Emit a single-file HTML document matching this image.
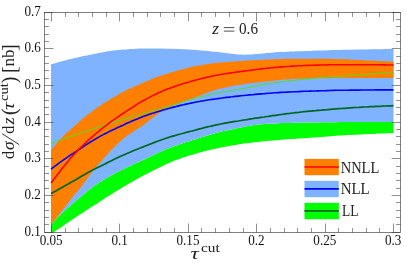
<!DOCTYPE html>
<html><head><meta charset="utf-8"><style>
html,body{margin:0;padding:0;background:#fff;}
svg{display:block;will-change:transform;font-family:"Liberation Serif",serif;fill:#000;}
.tl text{font-size:13.6px;}
</style></head><body>
<svg width="407" height="270" viewBox="0 0 407 270">
<rect width="407" height="270" fill="#fff"/>
<clipPath id="c"><rect x="44.5" y="12.5" width="356.0" height="220.0"/></clipPath>
<g clip-path="url(#c)">
<path d="M51.0,224.8 53.9,221.5 56.8,218.3 59.6,215.4 60.0,215.0 62.5,212.6 65.4,210.1 68.3,207.6 68.6,207.3 71.1,205.1 74.0,202.6 76.9,200.1 77.0,200.0 79.8,197.6 82.7,195.1 82.8,195.0 85.5,192.7 88.4,190.3 91.3,188.0 93.1,186.7 94.2,185.9 97.1,184.0 99.9,182.1 102.8,180.3 105.4,178.7 105.7,178.5 108.6,176.9 111.4,175.3 114.3,173.7 117.0,172.3 117.2,172.2 120.1,170.7 123.0,169.3 125.8,167.9 128.7,166.5 130.0,165.9 131.6,165.2 134.5,163.8 137.3,162.5 140.2,161.2 143.1,159.9 144.0,159.5 146.0,158.6 148.9,157.2 151.7,155.9 154.6,154.5 157.5,153.1 160.4,151.8 163.2,150.5 166.1,149.3 168.6,148.3 169.0,148.1 171.9,147.1 174.8,146.0 177.6,145.0 180.5,144.0 183.4,143.1 186.3,142.1 189.2,141.2 192.0,140.3 193.0,140.0 194.9,139.4 197.8,138.5 200.7,137.6 203.5,136.7 206.4,135.8 209.3,134.9 212.2,134.1 215.1,133.3 217.7,132.6 217.9,132.5 220.8,131.8 223.7,131.1 226.6,130.5 229.4,129.8 232.3,129.2 235.2,128.6 238.1,128.0 241.0,127.4 243.8,126.8 244.0,126.8 246.7,126.3 249.6,125.7 252.5,125.2 255.0,124.9 255.3,124.9 258.2,124.5 261.1,124.3 264.0,124.0 266.9,123.8 268.6,123.7 269.7,123.6 272.6,123.5 275.5,123.4 278.4,123.2 281.3,123.1 284.1,123.0 287.0,123.0 289.9,122.9 292.8,122.8 293.0,122.8 295.6,122.7 298.5,122.7 301.4,122.6 304.3,122.6 307.2,122.5 310.0,122.5 312.9,122.5 315.8,122.4 317.7,122.4 318.7,122.4 321.5,122.3 324.4,122.3 327.3,122.3 330.2,122.2 333.1,122.2 335.9,122.2 338.8,122.1 341.7,122.1 344.0,122.1 344.6,122.1 347.4,122.1 350.3,122.1 353.2,122.0 356.1,122.0 359.0,122.0 361.8,122.0 364.7,122.0 367.6,122.0 370.5,122.0 373.4,121.9 376.2,121.9 379.1,121.9 382.0,121.9 384.9,121.9 387.7,121.9 390.6,121.9 393.5,121.9 L393.5,133.0 390.6,133.1 387.7,133.2 384.9,133.4 382.0,133.5 379.1,133.6 376.2,133.7 373.4,133.9 370.5,134.0 368.0,134.1 367.6,134.1 364.7,134.3 361.8,134.4 359.0,134.5 356.1,134.7 353.2,134.8 350.3,134.9 347.4,135.1 344.6,135.3 344.0,135.3 341.7,135.4 338.8,135.6 335.9,135.8 333.1,136.0 330.2,136.3 327.3,136.5 324.4,136.7 321.5,136.9 318.7,137.2 315.8,137.4 312.9,137.6 310.0,137.8 310.0,137.8 307.2,138.0 304.3,138.2 301.4,138.4 298.5,138.5 295.6,138.7 293.0,138.9 292.8,138.9 289.9,139.1 287.0,139.3 284.1,139.5 281.3,139.7 278.4,140.0 275.5,140.2 272.6,140.4 269.7,140.7 268.6,140.8 266.9,141.0 264.0,141.3 261.1,141.6 258.2,141.9 255.3,142.3 255.0,142.3 252.5,142.6 249.6,142.9 246.7,143.2 244.0,143.6 243.8,143.6 241.0,144.0 238.1,144.5 235.2,145.0 232.3,145.4 229.4,146.0 226.6,146.5 223.7,147.1 220.8,147.6 217.9,148.2 215.1,148.8 214.3,149.0 212.2,149.5 209.3,150.1 206.4,150.8 203.5,151.5 200.7,152.3 197.8,153.0 194.9,153.9 193.0,154.4 192.0,154.7 189.2,155.5 186.3,156.5 183.4,157.4 180.5,158.4 177.6,159.4 174.8,160.5 174.8,160.5 171.9,161.7 169.0,163.0 166.1,164.3 163.2,165.6 160.4,167.0 160.0,167.2 157.5,168.4 154.6,169.8 151.7,171.2 148.9,172.7 146.0,174.2 144.4,175.0 143.1,175.7 140.2,177.2 137.3,178.8 134.5,180.4 131.6,182.1 130.0,183.0 128.7,183.7 125.8,185.4 123.0,187.1 120.1,188.9 117.2,190.6 114.6,192.2 114.3,192.4 111.4,194.2 108.6,196.0 105.7,197.8 102.8,199.7 100.0,201.5 99.9,201.5 97.1,203.4 94.2,205.3 91.3,207.1 88.4,209.0 85.5,210.8 82.7,212.7 79.8,214.6 76.9,216.5 74.0,218.4 73.6,218.7 71.1,220.3 68.3,222.3 65.4,224.2 62.5,226.2 59.6,228.2 56.8,230.1 53.9,232.1 53.6,232.3 51.0,234.1Z" fill="#00ff00"/>
<path d="M51.0,64.3 54.3,63.4 57.5,62.5 60.8,61.6 64.1,60.7 67.4,59.9 68.6,59.6 70.6,59.1 73.9,58.3 77.2,57.6 80.5,56.8 83.7,56.1 87.0,55.4 90.3,54.7 93.0,54.2 93.6,54.1 96.8,53.5 100.1,52.8 103.4,52.2 106.7,51.6 109.9,51.1 113.2,50.6 116.5,50.2 118.0,50.1 119.8,49.9 123.0,49.6 126.3,49.4 129.6,49.1 132.9,48.9 136.1,48.7 139.4,48.6 142.7,48.5 144.0,48.5 146.0,48.5 149.2,48.5 152.5,48.5 155.8,48.6 159.1,48.6 162.3,48.6 165.6,48.7 168.6,48.7 168.9,48.7 172.2,48.8 175.4,48.9 178.7,49.0 182.0,49.2 185.3,49.3 188.5,49.5 191.8,49.7 193.0,49.8 195.1,49.9 198.4,50.2 201.6,50.5 204.9,50.8 208.2,51.1 211.5,51.4 214.0,51.7 214.7,51.8 218.0,52.1 221.3,52.5 224.6,52.8 225.0,52.9 227.8,53.2 231.1,53.7 233.2,53.9 234.4,54.0 237.7,54.4 239.0,54.5 240.9,54.6 244.2,54.8 248.0,54.6 250.0,54.5 251.9,54.4 255.7,54.1 258.2,53.9 259.5,53.8 263.3,53.4 267.2,53.0 268.6,52.9 271.0,52.7 274.0,52.4 274.8,52.3 278.7,52.1 282.5,51.9 286.3,51.8 290.1,51.6 293.0,51.5 294.0,51.5 297.8,51.3 301.6,51.2 305.5,51.0 309.3,50.9 313.1,50.8 316.9,50.6 317.7,50.6 320.8,50.5 324.6,50.4 328.4,50.2 332.2,50.1 336.1,50.0 339.9,49.9 343.7,49.8 344.0,49.8 347.6,49.7 351.4,49.7 355.2,49.6 359.0,49.5 362.9,49.4 366.7,49.4 370.5,49.3 374.4,49.3 378.2,49.2 382.0,49.2 385.8,49.1 389.7,49.1 393.5,49.1 L393.5,121.9 390.6,121.9 387.7,121.9 384.9,121.9 382.0,121.9 379.1,121.9 376.2,121.9 373.4,121.9 370.5,122.0 367.6,122.0 364.7,122.0 361.8,122.0 359.0,122.0 356.1,122.0 353.2,122.0 350.3,122.1 347.4,122.1 344.6,122.1 344.0,122.1 341.7,122.1 338.8,122.1 335.9,122.2 333.1,122.2 330.2,122.2 327.3,122.3 324.4,122.3 321.5,122.3 318.7,122.4 317.7,122.4 315.8,122.4 312.9,122.5 310.0,122.5 307.2,122.5 304.3,122.6 301.4,122.6 298.5,122.7 295.6,122.7 293.0,122.8 292.8,122.8 289.9,122.9 287.0,123.0 284.1,123.0 281.3,123.1 278.4,123.2 275.5,123.4 272.6,123.5 269.7,123.6 268.6,123.7 266.9,123.8 264.0,124.0 261.1,124.3 258.2,124.5 255.3,124.9 255.0,124.9 252.5,125.2 249.6,125.7 246.7,126.3 244.0,126.8 243.8,126.8 241.0,127.4 238.1,128.0 235.2,128.6 232.3,129.2 229.4,129.8 226.6,130.5 223.7,131.1 220.8,131.8 217.9,132.5 217.7,132.6 215.1,133.3 212.2,134.1 209.3,134.9 206.4,135.8 203.5,136.7 200.7,137.6 197.8,138.5 194.9,139.4 193.0,140.0 192.0,140.3 189.2,141.2 186.3,142.1 183.4,143.1 180.5,144.0 177.6,145.0 174.8,146.0 171.9,147.1 169.0,148.1 168.6,148.3 166.1,149.3 163.2,150.5 160.4,151.8 157.5,153.1 154.6,154.5 151.7,155.9 148.9,157.2 146.0,158.6 144.0,159.5 143.1,159.9 140.2,161.2 137.3,162.5 134.5,163.8 131.6,165.2 130.0,165.9 128.7,166.5 125.8,167.9 123.0,169.3 120.1,170.7 117.2,172.2 117.0,172.3 114.3,173.7 111.4,175.3 108.6,176.9 105.7,178.5 105.4,178.7 102.8,180.3 99.9,182.1 97.1,184.0 94.2,185.9 93.1,186.7 91.3,188.0 88.4,190.3 85.5,192.7 82.8,195.0 82.7,195.1 79.8,197.6 77.0,200.0 76.9,200.1 74.0,202.6 71.1,205.1 68.6,207.3 68.3,207.6 65.4,210.1 62.5,212.6 60.0,215.0 59.6,215.4 56.8,218.3 53.9,221.5 51.0,224.8Z" fill="#80b3ff"/>
<path d="M51.0,150.3 53.9,146.5 56.0,143.9 56.8,143.0 59.6,139.8 62.5,136.9 63.4,136.0 65.4,134.1 68.3,131.6 68.6,131.3 71.1,129.0 74.0,126.4 76.9,123.8 79.8,121.2 80.9,120.2 82.7,118.6 84.0,117.4 85.5,116.2 88.4,114.0 91.3,111.9 93.1,110.6 94.2,109.8 97.1,107.8 99.9,105.8 101.5,104.8 102.8,103.9 105.7,102.1 108.6,100.3 111.4,98.6 113.6,97.3 114.3,96.9 117.2,95.2 120.1,93.6 123.0,92.0 125.8,90.5 126.2,90.3 128.7,89.1 131.6,87.7 134.5,86.4 137.3,85.2 140.2,83.9 143.1,82.7 144.0,82.3 146.0,81.4 148.9,80.2 151.7,79.0 154.6,77.9 154.8,77.8 157.5,76.8 160.4,75.8 163.2,74.9 166.1,74.0 168.6,73.2 169.0,73.1 171.9,72.2 174.8,71.4 177.6,70.5 179.6,70.0 180.5,69.7 183.4,69.0 186.3,68.2 189.2,67.5 192.0,66.8 193.0,66.6 194.9,66.2 197.8,65.7 200.7,65.2 203.5,64.7 206.4,64.2 209.3,63.8 212.2,63.4 215.1,63.1 217.7,62.8 217.9,62.8 220.8,62.5 223.7,62.2 226.6,62.0 229.4,61.8 232.3,61.6 235.2,61.4 238.1,61.2 241.0,61.0 243.8,60.8 244.0,60.8 246.7,60.6 249.6,60.4 252.5,60.3 255.3,60.1 258.2,59.9 261.1,59.7 264.0,59.6 266.9,59.5 268.6,59.4 269.7,59.4 272.6,59.2 275.5,59.1 278.4,59.0 281.3,58.9 284.1,58.8 287.0,58.8 289.9,58.7 292.8,58.7 293.0,58.7 295.6,58.7 298.5,58.7 301.4,58.7 304.3,58.7 307.2,58.7 310.0,58.7 312.9,58.7 315.8,58.7 317.7,58.7 318.7,58.7 321.5,58.7 324.4,58.7 327.3,58.8 330.2,58.8 333.1,58.9 335.9,59.0 338.8,59.1 341.7,59.1 344.0,59.2 344.6,59.2 347.4,59.3 350.3,59.5 353.2,59.7 356.0,59.8 356.1,59.8 359.0,59.9 361.8,60.1 364.7,60.2 367.6,60.4 370.5,60.5 373.4,60.6 376.2,60.8 379.1,60.9 382.0,61.1 384.9,61.2 387.7,61.3 390.6,61.5 393.5,61.6 L393.5,78.1 390.6,78.1 387.7,78.1 384.9,78.1 382.0,78.1 379.1,78.1 376.2,78.1 373.4,78.1 370.5,78.1 367.6,78.1 364.7,78.1 361.8,78.1 359.0,78.1 356.1,78.1 353.2,78.1 350.3,78.1 347.4,78.1 344.6,78.1 344.0,78.1 341.7,78.1 338.8,78.1 335.9,78.1 333.1,78.1 330.2,78.2 327.3,78.2 324.4,78.2 321.5,78.3 318.7,78.3 317.7,78.3 315.8,78.3 312.9,78.4 310.0,78.4 307.2,78.5 304.3,78.6 301.4,78.7 298.5,78.8 295.6,78.9 293.0,79.0 292.8,79.0 289.9,79.2 287.0,79.4 284.1,79.6 281.3,79.9 278.4,80.2 275.5,80.5 272.6,80.9 269.7,81.2 268.6,81.3 266.9,81.5 264.0,81.8 261.1,82.1 258.2,82.4 255.3,82.7 252.5,83.1 249.6,83.4 246.7,83.8 244.0,84.2 243.8,84.2 241.0,84.7 238.1,85.1 235.2,85.6 232.3,86.2 229.4,86.7 226.6,87.3 223.7,87.9 220.8,88.6 217.9,89.3 217.7,89.4 215.1,90.1 212.2,91.1 209.3,92.1 206.4,93.2 203.5,94.3 200.7,95.4 200.0,95.6 197.8,96.4 194.9,97.4 192.0,98.4 189.2,99.5 188.9,99.6 186.3,100.6 183.4,101.7 180.5,102.9 177.6,104.0 177.0,104.3 174.8,105.2 171.9,106.4 169.0,107.6 166.1,108.9 165.2,109.4 163.2,110.5 160.4,112.3 157.5,114.2 154.8,116.1 154.6,116.2 151.7,118.4 148.9,120.8 146.0,123.1 143.7,124.8 143.1,125.2 140.2,127.2 137.3,129.0 134.5,130.8 131.6,132.7 130.0,133.8 128.7,134.7 125.8,136.8 123.0,139.1 121.9,140.0 120.1,141.6 117.2,144.3 114.3,147.1 111.4,150.1 108.6,153.1 107.0,154.8 105.7,156.3 102.8,159.7 102.5,160.0 99.9,162.8 97.1,165.8 94.4,168.8 94.2,169.1 91.3,172.9 88.4,177.0 86.3,180.0 85.5,181.1 82.7,185.0 82.5,185.2 79.8,188.5 76.9,191.9 74.0,195.3 73.6,195.8 71.1,198.9 68.3,202.7 66.0,205.7 65.4,206.5 62.5,210.2 59.6,213.9 58.8,215.0 56.8,217.6 53.9,221.1 51.0,224.6Z" fill="#ff8000"/>
<path d="M51.0,143.7 53.9,142.6 56.8,141.5 59.6,140.4 62.5,139.4 65.4,138.3 68.3,137.3 70.0,136.7 71.1,136.3 74.0,135.3 76.9,134.3 79.8,133.4 82.7,132.4 85.5,131.4 88.4,130.5 89.9,130.0 91.3,129.5 94.2,128.6 97.1,127.6 99.9,126.7 102.8,125.8 104.0,125.4 105.7,124.9 108.6,124.0 111.4,123.1 114.3,122.3 117.2,121.4 120.1,120.6 123.0,119.7 124.0,119.4 125.8,118.8 128.7,118.0 131.6,117.1 134.5,116.3 137.3,115.4 140.2,114.5 143.1,113.7 144.0,113.4 146.0,112.8 148.9,112.0 151.7,111.1 154.6,110.3 157.5,109.4 160.4,108.6 163.2,107.8 166.1,106.9 168.6,106.2 169.0,106.1 171.9,105.2 174.8,104.4 177.6,103.5 180.5,102.7 183.4,101.8 186.3,101.0 189.2,100.1 192.0,99.4 193.0,99.1 194.9,98.6 197.8,97.8 200.7,97.1 203.5,96.4 206.4,95.7 209.3,95.0 212.2,94.3 215.1,93.7 217.7,93.1 217.9,93.1 220.8,92.5 223.7,91.9 226.6,91.4 229.4,90.9 232.3,90.4 235.2,89.9 238.1,89.5 241.0,88.9 243.8,88.4 244.0,88.4 246.7,87.9 249.6,87.3 252.5,86.7 255.3,86.2 258.2,85.6 261.1,85.0 264.0,84.5 266.9,84.0 268.6,83.7 269.7,83.5 272.6,83.1 275.5,82.7 278.4,82.3 281.3,81.9 284.1,81.6 287.0,81.2 289.9,80.9 292.8,80.5 293.0,80.5 295.6,80.2 298.5,79.9 301.4,79.6 304.3,79.3 307.2,79.0 310.0,78.7 312.9,78.4 315.8,78.2 317.7,78.0 318.7,77.9 321.5,77.7 324.4,77.4 327.3,77.2 330.2,77.0 333.1,76.8 335.9,76.6 338.8,76.4 341.7,76.2 344.0,76.0 344.6,76.0 347.4,75.7 350.3,75.5 353.2,75.3 356.0,75.1 356.1,75.1 359.0,74.9 361.8,74.7 364.7,74.5 367.6,74.2 370.5,74.0 373.4,73.8 376.2,73.6 379.1,73.4 382.0,73.2 384.9,73.0 387.7,72.8 390.6,72.6 393.5,72.4" fill="none" stroke="#55dd22" stroke-width="1"/>
<path d="M51.0,193.6 53.9,192.0 56.8,190.4 59.6,188.8 62.5,187.2 65.4,185.6 68.3,184.0 68.6,183.8 71.1,182.3 74.0,180.7 76.9,179.0 79.8,177.2 82.7,175.6 85.5,173.9 88.4,172.3 89.0,172.0 91.3,170.8 94.2,169.3 97.1,167.8 99.9,166.4 102.8,165.0 105.4,163.7 105.7,163.6 108.6,162.1 111.4,160.7 114.3,159.2 117.2,157.8 117.7,157.6 120.1,156.5 123.0,155.2 125.8,154.0 128.7,152.7 130.0,152.2 131.6,151.5 134.5,150.3 137.3,149.2 140.2,148.0 143.1,146.9 144.0,146.5 146.0,145.7 148.9,144.6 151.7,143.5 154.6,142.4 157.5,141.3 160.4,140.2 163.2,139.2 166.1,138.2 168.6,137.4 169.0,137.3 171.9,136.4 174.8,135.6 177.6,134.7 180.5,134.0 183.4,133.2 186.3,132.4 189.2,131.7 192.0,131.0 193.0,130.7 194.9,130.2 197.8,129.4 200.7,128.7 203.5,127.9 206.4,127.2 209.3,126.5 212.2,125.8 215.1,125.2 217.7,124.6 217.9,124.6 220.8,124.0 223.7,123.4 226.6,122.9 229.4,122.4 232.3,121.9 235.2,121.4 238.1,121.0 241.0,120.5 243.8,120.0 244.0,120.0 246.7,119.6 249.6,119.1 252.5,118.7 255.3,118.2 258.2,117.8 261.1,117.4 264.0,117.0 266.9,116.5 268.6,116.3 269.7,116.1 272.6,115.7 275.5,115.3 278.4,114.9 281.3,114.5 284.1,114.1 287.0,113.7 289.9,113.4 292.8,113.0 293.0,113.0 295.6,112.7 298.5,112.4 301.4,112.0 304.3,111.7 307.2,111.4 310.0,111.1 312.9,110.8 315.8,110.6 317.7,110.4 318.7,110.3 321.5,110.1 324.4,109.8 327.3,109.6 330.2,109.3 333.1,109.1 335.9,108.9 338.8,108.7 341.7,108.5 344.0,108.3 344.6,108.3 347.4,108.1 350.3,107.9 353.2,107.7 356.1,107.5 359.0,107.4 361.8,107.2 364.7,107.0 367.6,106.9 370.5,106.7 373.4,106.6 376.2,106.4 379.1,106.3 382.0,106.2 384.9,106.0 387.7,105.9 390.6,105.8 393.5,105.7" fill="none" stroke="#006622" stroke-width="1.7"/>
<path d="M51.0,169.1 53.9,166.9 56.8,164.8 59.6,162.7 62.5,160.7 65.4,158.6 68.3,156.6 68.6,156.4 71.1,154.7 74.0,152.8 76.9,150.9 79.8,149.0 80.9,148.3 82.7,147.1 85.5,145.2 88.4,143.3 91.3,141.5 93.1,140.4 94.2,139.8 97.1,138.1 99.9,136.4 102.8,134.9 105.4,133.5 105.7,133.4 108.6,131.9 111.4,130.5 114.3,129.2 117.2,127.8 117.7,127.6 120.1,126.5 123.0,125.2 125.8,123.8 128.7,122.6 130.0,122.0 131.6,121.3 134.5,120.1 137.3,118.9 140.2,117.7 143.1,116.6 144.0,116.3 146.0,115.6 148.9,114.6 151.7,113.6 154.6,112.7 157.5,111.8 160.4,110.9 163.2,110.0 166.1,109.2 168.6,108.5 169.0,108.4 171.9,107.6 174.8,106.9 177.6,106.1 180.5,105.4 183.4,104.8 186.3,104.1 189.2,103.5 192.0,102.9 193.0,102.7 194.9,102.3 197.8,101.8 200.7,101.3 203.5,100.8 206.4,100.3 209.3,99.8 212.2,99.4 215.1,99.0 217.7,98.6 217.9,98.6 220.8,98.2 223.7,97.8 226.6,97.4 229.4,97.1 232.3,96.8 235.2,96.4 238.1,96.1 241.0,95.8 243.8,95.5 244.0,95.5 246.7,95.2 249.6,94.9 252.5,94.7 255.3,94.4 258.2,94.1 261.1,93.9 264.0,93.7 266.9,93.4 268.6,93.3 269.7,93.2 272.6,93.0 275.5,92.8 278.4,92.6 281.3,92.4 284.1,92.3 287.0,92.1 289.9,92.0 292.8,91.8 293.0,91.8 295.6,91.7 298.5,91.6 301.4,91.4 304.3,91.3 307.2,91.2 310.0,91.1 312.9,91.0 315.8,91.0 317.7,90.9 318.7,90.9 321.5,90.8 324.4,90.7 327.3,90.6 330.2,90.5 333.1,90.4 335.9,90.3 338.8,90.3 341.7,90.2 344.0,90.2 344.6,90.2 347.4,90.2 350.3,90.1 353.2,90.1 356.1,90.1 359.0,90.1 361.8,90.0 364.7,90.0 367.6,90.0 370.5,90.0 373.4,90.0 376.2,89.9 379.1,89.9 382.0,89.9 384.9,89.9 387.7,89.9 390.6,89.9 393.5,89.9" fill="none" stroke="#0000ff" stroke-width="1.6"/>
<path d="M51.0,183.0 53.9,179.2 56.8,175.5 59.5,172.0 59.6,171.8 62.5,168.1 65.4,164.4 68.3,160.9 68.6,160.5 71.1,157.6 74.0,154.4 76.9,151.4 79.8,148.4 80.9,147.3 82.7,145.6 85.5,142.9 88.4,140.2 91.3,137.7 93.1,136.1 94.2,135.2 97.1,132.7 99.9,130.3 102.8,127.9 105.4,125.9 105.7,125.7 108.6,123.5 111.4,121.4 114.3,119.4 117.2,117.3 117.7,117.0 120.1,115.4 123.0,113.5 125.8,111.6 128.7,109.7 131.6,107.9 132.5,107.3 134.5,106.0 137.3,104.2 140.2,102.4 143.1,100.7 144.0,100.2 146.0,99.1 148.9,97.6 151.7,96.1 154.6,94.7 157.5,93.3 160.4,92.0 163.2,90.8 166.1,89.6 168.6,88.6 169.0,88.4 171.9,87.4 174.8,86.4 177.6,85.4 180.5,84.5 183.4,83.6 186.3,82.7 189.2,81.9 192.0,81.1 193.0,80.8 194.9,80.3 197.8,79.5 200.7,78.8 203.5,78.1 206.4,77.4 209.3,76.7 212.2,76.1 215.1,75.5 217.7,75.0 217.9,75.0 220.8,74.5 223.7,74.0 226.6,73.5 229.4,73.1 232.3,72.7 235.2,72.3 238.1,71.9 241.0,71.5 243.8,71.1 244.0,71.1 246.7,70.7 249.6,70.4 252.5,70.0 255.3,69.6 258.2,69.3 261.1,68.9 264.0,68.6 266.9,68.3 268.6,68.1 269.7,68.0 272.6,67.7 275.5,67.4 278.4,67.2 281.3,66.9 284.1,66.7 287.0,66.5 289.9,66.3 292.8,66.1 293.0,66.1 295.6,66.0 298.5,65.8 301.4,65.7 304.3,65.5 307.2,65.4 310.0,65.3 312.9,65.2 315.8,65.1 317.7,65.1 318.7,65.1 321.5,65.0 324.4,65.0 327.3,64.9 330.2,64.8 333.1,64.8 335.9,64.8 338.8,64.7 341.7,64.7 344.0,64.7 344.6,64.7 347.4,64.7 350.3,64.7 353.2,64.7 356.1,64.7 359.0,64.7 361.8,64.7 364.7,64.7 367.6,64.7 370.5,64.8 373.4,64.8 376.2,64.8 379.1,64.8 382.0,64.9 384.9,64.9 387.7,65.0 390.6,65.0 393.5,65.1" fill="none" stroke="#ff0000" stroke-width="1.6"/>
</g>
<!-- legend -->
<rect x="304.5" y="158.9" width="34.3" height="16.3" fill="#ff8000"/><path d="M304.5,167h34.3" stroke="#ff0000" stroke-width="1.7"/>
<rect x="304.5" y="180.8" width="34.3" height="16.4" fill="#80b3ff"/><path d="M304.5,188.8h34.3" stroke="#0000ff" stroke-width="1.7"/>
<rect x="304.5" y="202.9" width="34.3" height="16.3" fill="#00ff00"/><path d="M304.5,210.8h34.3" stroke="#006622" stroke-width="1.7"/>
<g font-size="15.8px" fill="#222">
<text x="340.7" y="172.6" textLength="38.6" lengthAdjust="spacingAndGlyphs">NNLL</text>
<text x="340.7" y="194.4" textLength="29" lengthAdjust="spacingAndGlyphs">NLL</text>
<text x="342" y="215.8" textLength="16.5" lengthAdjust="spacingAndGlyphs">LL</text>
</g>
<!-- frame -->
<rect x="44.5" y="12.5" width="356.0" height="220.0" fill="none" stroke="#333" stroke-width="0.62"/>
<path d="M51.50,232.5v-8.9M51.50,12.5v8.9M65.50,232.5v-4.4M65.50,12.5v4.4M78.50,232.5v-4.4M78.50,12.5v4.4M92.50,232.5v-4.4M92.50,12.5v4.4M106.50,232.5v-4.4M106.50,12.5v4.4M119.50,232.5v-8.9M119.50,12.5v8.9M133.50,232.5v-4.4M133.50,12.5v4.4M147.50,232.5v-4.4M147.50,12.5v4.4M160.50,232.5v-4.4M160.50,12.5v4.4M174.50,232.5v-4.4M174.50,12.5v4.4M188.50,232.5v-8.9M188.50,12.5v8.9M201.50,232.5v-4.4M201.50,12.5v4.4M215.50,232.5v-4.4M215.50,12.5v4.4M229.50,232.5v-4.4M229.50,12.5v4.4M243.50,232.5v-4.4M243.50,12.5v4.4M256.50,232.5v-8.9M256.50,12.5v8.9M270.50,232.5v-4.4M270.50,12.5v4.4M284.50,232.5v-4.4M284.50,12.5v4.4M297.50,232.5v-4.4M297.50,12.5v4.4M311.50,232.5v-4.4M311.50,12.5v4.4M325.50,232.5v-8.9M325.50,12.5v8.9M338.50,232.5v-4.4M338.50,12.5v4.4M352.50,232.5v-4.4M352.50,12.5v4.4M366.50,232.5v-4.4M366.50,12.5v4.4M379.50,232.5v-4.4M379.50,12.5v4.4M393.50,232.5v-8.9M393.50,12.5v8.9M44.5,232.50h8.9M400.5,232.50h-8.9M44.5,224.50h4.4M400.5,224.50h-4.4M44.5,217.50h4.4M400.5,217.50h-4.4M44.5,210.50h4.4M400.5,210.50h-4.4M44.5,202.50h4.4M400.5,202.50h-4.4M44.5,195.50h8.9M400.5,195.50h-8.9M44.5,188.50h4.4M400.5,188.50h-4.4M44.5,180.50h4.4M400.5,180.50h-4.4M44.5,173.50h4.4M400.5,173.50h-4.4M44.5,166.50h4.4M400.5,166.50h-4.4M44.5,158.50h8.9M400.5,158.50h-8.9M44.5,151.50h4.4M400.5,151.50h-4.4M44.5,144.50h4.4M400.5,144.50h-4.4M44.5,136.50h4.4M400.5,136.50h-4.4M44.5,129.50h4.4M400.5,129.50h-4.4M44.5,122.50h8.9M400.5,122.50h-8.9M44.5,114.50h4.4M400.5,114.50h-4.4M44.5,107.50h4.4M400.5,107.50h-4.4M44.5,100.50h4.4M400.5,100.50h-4.4M44.5,92.50h4.4M400.5,92.50h-4.4M44.5,85.50h8.9M400.5,85.50h-8.9M44.5,78.50h4.4M400.5,78.50h-4.4M44.5,70.50h4.4M400.5,70.50h-4.4M44.5,63.50h4.4M400.5,63.50h-4.4M44.5,56.50h4.4M400.5,56.50h-4.4M44.5,48.50h8.9M400.5,48.50h-8.9M44.5,41.50h4.4M400.5,41.50h-4.4M44.5,34.50h4.4M400.5,34.50h-4.4M44.5,26.50h4.4M400.5,26.50h-4.4M44.5,19.50h4.4M400.5,19.50h-4.4M44.5,12.50h8.9M400.5,12.50h-8.9" stroke="#333" stroke-width="0.55" fill="none"/>
<g class="tl" fill="#111"><text transform="translate(51.2,245) scale(0.965,1)" text-anchor="middle">0.05</text><text transform="translate(119.6,245) scale(0.965,1)" text-anchor="middle">0.1</text><text transform="translate(188.0,245) scale(0.965,1)" text-anchor="middle">0.15</text><text transform="translate(256.4,245) scale(0.965,1)" text-anchor="middle">0.2</text><text transform="translate(324.8,245) scale(0.965,1)" text-anchor="middle">0.25</text><text transform="translate(393.2,245) scale(0.965,1)" text-anchor="middle">0.3</text><text transform="translate(40.8,235.5) scale(0.965,1)" text-anchor="end">0.1</text><text transform="translate(40.8,198.8) scale(0.965,1)" text-anchor="end">0.2</text><text transform="translate(40.8,162.1) scale(0.965,1)" text-anchor="end">0.3</text><text transform="translate(40.8,125.5) scale(0.965,1)" text-anchor="end">0.4</text><text transform="translate(40.8,88.8) scale(0.965,1)" text-anchor="end">0.5</text><text transform="translate(40.8,52.2) scale(0.965,1)" text-anchor="end">0.6</text><text transform="translate(40.8,15.5) scale(0.965,1)" text-anchor="end">0.7</text></g>
<!-- title -->
<g fill="#222" font-size="16px">
<text transform="translate(212.3,33.5) scale(1.05,1)" font-style="italic" font-size="16.5px">z</text>
<path d="M223.8,27.6h10.6M223.8,31.1h10.6" stroke="#222" stroke-width="0.8" fill="none"/>
<text transform="translate(239,33.5) scale(0.95,1)">0.6</text>
</g>
<!-- x label -->
<text transform="translate(190.6,258.8) scale(1.32,1)" font-size="17.4px" font-style="italic" fill="#222">τ</text>
<text transform="translate(201,251.7) scale(1.2,1)" font-size="12.8px" fill="#222">cut</text>
<!-- y label -->
<g transform="translate(14.4,158.3) rotate(-90)" fill="#222" font-size="16.4px">
<text x="-0.7" y="0">d</text>
<text x="8.3" y="0" font-style="italic" font-size="17.4px">σ</text>
<path d="M13.6,4.9 L24.6,-12.3" stroke="#222" stroke-width="0.9" fill="none"/>
<text x="24.6" y="0">d</text>
<text x="34" y="0" font-style="italic" font-size="17.6px">z</text>
<text x="43.2" y="1.7" font-size="20px">(</text>
<text transform="translate(48.4,0) scale(1.25,1)" font-style="italic" font-size="17.4px">τ</text>
<text transform="translate(57.2,-6.2) scale(1.15,1)" font-size="12.8px">cut</text>
<text x="75" y="1.7" font-size="20px">)</text>
<text x="85.4" y="1.6" font-size="20.5px">[</text>
<text x="91.9" y="0" textLength="17" lengthAdjust="spacingAndGlyphs">nb</text>
<text x="107.4" y="1.6" font-size="20.5px">]</text>
</g>
</svg>
</body></html>
